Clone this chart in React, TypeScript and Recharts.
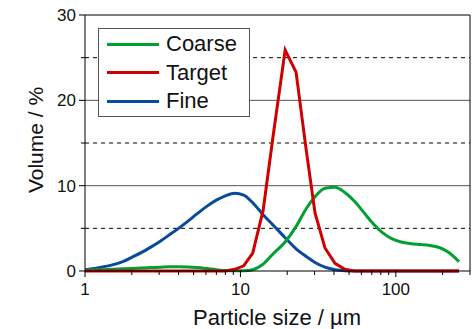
import React from 'react';
import {
  LineChart,
  Line,
  XAxis,
  YAxis,
  ReferenceLine,
  Label,
} from 'recharts';

// particle size bins (µm)
const sizes = [
  1, 1.15, 1.32, 1.52, 1.75, 2, 2.3, 2.65, 3.05, 3.5, 4, 4.6, 5.3, 6.1, 7, 8, 9.2, 10.5, 12, 14,
  16.2, 19.4, 22.8, 26.5, 30.2, 35, 40.6, 47, 54, 62, 71, 82, 94, 108, 125, 143, 165, 190, 218, 255,
];

const coarse = [
  0.1, 0.12, 0.15, 0.2, 0.25, 0.3, 0.35, 0.4, 0.45, 0.5, 0.5, 0.48, 0.4, 0.28, 0.15, 0.05, 0.02, 0.03, 0.15, 0.8,
  2.0, 3.4, 5.2, 7.3, 8.7, 9.7, 9.8, 9.2, 8.2, 6.9, 5.6, 4.5, 3.8, 3.4, 3.2, 3.1, 3.0, 2.75, 2.2, 1.1,
];

const target = [
  0, 0, 0, 0, 0, 0, 0, 0, 0, 0, 0, 0, 0, 0, 0, 0, 0.2, 0.6, 2.1, 7.1,
  15.7, 25.9, 23.3, 14.2, 6.8, 2.7, 0.9, 0.2, 0, 0, 0, 0, 0, 0, 0, 0, 0, 0, 0, 0,
];

const fine = [
  0.15, 0.3, 0.5, 0.75, 1.1, 1.6, 2.15, 2.8, 3.5, 4.25, 5.0, 5.85, 6.75, 7.6, 8.3, 8.8, 9.1, 8.9, 8.0, 6.6,
  5.4, 3.9, 2.6, 1.7, 1.0, 0.45, 0.15, 0.03, 0, 0, 0, 0, 0, 0, 0, 0, 0, 0, 0, 0,
];

const xTicks = [1, 2, 3, 4, 5, 6, 7, 8, 9, 10, 20, 30, 40, 50, 60, 70, 80, 90, 100, 200, 300];
const xLabels = [1, 10, 100];
const yTicks = [0, 5, 10, 15, 20, 25, 30];
const yLabels = [0, 10, 20, 30];

const series = [
  { name: 'Coarse', color: '#00a032' },
  { name: 'Target', color: '#d00000' },
  { name: 'Fine', color: '#0a4a9a' },
];

const data = sizes.map((s, i) => ({ size: s, Coarse: coarse[i], Target: target[i], Fine: fine[i] }));

const FONT = '"Liberation Sans", Arial, sans-serif';

const XTick = (props: any) => {
  const { x, y, payload } = props;
  const major = xLabels.includes(payload.value);
  return (
    <g>
      <line x1={x} x2={x} y1={y} y2={y + (major ? 6 : 4)} stroke="#000" strokeWidth={1} />
      {major && (
        <text x={x} y={y + 24} textAnchor="middle" fontSize={17} fontFamily={FONT} fill="#111">
          {payload.value}
        </text>
      )}
    </g>
  );
};

const YTick = (props: any) => {
  const { x, y, payload } = props;
  const major = yLabels.includes(payload.value);
  return (
    <g>
      <line x1={x - (major ? 6 : 4)} x2={x} y1={y} y2={y} stroke="#000" strokeWidth={1} />
      {major && (
        <text x={x - 9} y={y + 6} textAnchor="end" fontSize={17} fontFamily={FONT} fill="#111">
          {payload.value}
        </text>
      )}
    </g>
  );
};

const LegendBox = () => (
  <div
    style={{
      position: 'absolute',
      left: 98,
      top: 28,
      width: 152,
      height: 89,
      border: '1px solid #555',
      background: '#fff',
      fontFamily: FONT,
      fontSize: 22,
      color: '#111',
      boxSizing: 'border-box',
      paddingTop: 1,
    }}
  >
    {series.map((s) => (
      <div key={s.name} style={{ display: 'flex', alignItems: 'center', height: 28.5 }}>
        <div style={{ width: 52, height: 3, background: s.color, marginLeft: 8, marginRight: 7 }} />
        <span style={{ lineHeight: '22px' }}>{s.name}</span>
      </div>
    ))}
  </div>
);

export default function App() {
  return (
    <div style={{ position: 'absolute', left: 0, top: 0, width: 474, height: 329, background: '#fff' }}>
      <LineChart width={474} height={329} data={data} margin={{ top: 15, right: 4, bottom: 0, left: 0 }}>
        <XAxis
          dataKey="size"
          type="number"
          scale="log"
          domain={[1, 300]}
          allowDataOverflow
          ticks={xTicks}
          interval={0}
          height={58}
          tickLine={false}
          tickSize={0}
          tickMargin={0}
          stroke="#000"
          tick={<XTick />}
        >
          <Label
            content={() => (
              <text x={277} y={325} textAnchor="middle" fontSize={22} fontFamily={FONT} fill="#111">
                Particle size / µm
              </text>
            )}
          />
        </XAxis>
        <YAxis
          type="number"
          domain={[0, 30]}
          ticks={yTicks}
          interval={0}
          width={85}
          tickLine={false}
          tickSize={0}
          tickMargin={0}
          stroke="#000"
          tick={<YTick />}
        >
          <Label
            content={() => (
              <text
                x={43}
                y={140}
                transform="rotate(-90 43 140)"
                textAnchor="middle"
                fontSize={21}
                fontFamily={FONT}
                fill="#111"
              >
                Volume / %
              </text>
            )}
          />
        </YAxis>
        <ReferenceLine y={5} stroke="#000" strokeDasharray="4 4" />
        <ReferenceLine y={15} stroke="#000" strokeDasharray="4 4" />
        <ReferenceLine y={25} stroke="#000" strokeDasharray="4 4" />
        <ReferenceLine y={10} stroke="#555" />
        <ReferenceLine y={20} stroke="#555" />
        <ReferenceLine y={30} stroke="#000" />
        <ReferenceLine x={300} stroke="#000" />
        <Line type="monotone" dataKey="Fine" stroke="#0a4a9a" strokeWidth={3} dot={false} isAnimationActive={false} />
        <Line type="monotone" dataKey="Coarse" stroke="#00a032" strokeWidth={3} dot={false} isAnimationActive={false} />
        <Line type="linear" dataKey="Target" stroke="#d00000" strokeWidth={3} dot={false} isAnimationActive={false} />
      </LineChart>
      <LegendBox />
    </div>
  );
}
